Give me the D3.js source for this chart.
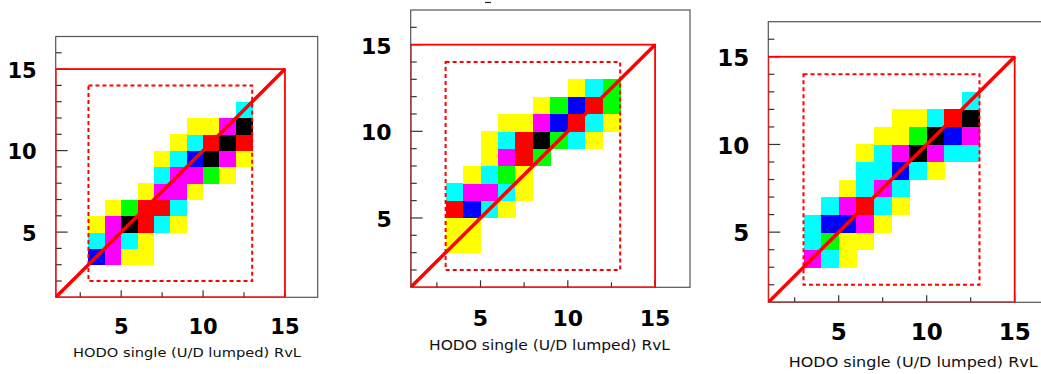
<!DOCTYPE html>
<html>
<head>
<meta charset="utf-8">
<script src="https://cdn.jsdelivr.net/npm/d3@7"></script>
<style>
  html, body { margin: 0; padding: 0; background: #fff; }
  svg { display: block; }
</style>
</head>
<body>
<svg id="chart" width="1041" height="374"></svg>
<script>
// Level codes of the histogram cells (colour index of the old ROOT palette)
const Palette = ["#ffff00", "#00ffff", "#ff00ff", "#0000ff", "#00ff00", "#ff0000", "#000000"];
const Levels = [1, 2, 3, 4, 5, 6, 7];

// Each row: lower bin edge in y, first bin in x, then the levels along x
const Hist1 = [
    { Y: 3, X: 3, Cells: [4, 3, 1, 1] },
    { Y: 4, X: 3, Cells: [2, 3, 2, 1] },
    { Y: 5, X: 3, Cells: [1, 3, 7, 6, 2, 1] },
    { Y: 6, X: 4, Cells: [1, 5, 6, 6, 2] },
    { Y: 7, X: 6, Cells: [1, 3, 3, 1] },
    { Y: 8, X: 7, Cells: [2, 3, 3, 5, 1] },
    { Y: 9, X: 7, Cells: [1, 2, 4, 7, 3, 1] },
    { Y: 10, X: 8, Cells: [1, 2, 6, 7, 6] },
    { Y: 11, X: 9, Cells: [1, 1, 3, 7] },
    { Y: 12, X: 12, Cells: [2] }
];
const Hist2 = [
    { Y: 3, X: 3, Cells: [1, 1] },
    { Y: 4, X: 3, Cells: [1, 1] },
    { Y: 5, X: 3, Cells: [6, 4, 2, 1] },
    { Y: 6, X: 3, Cells: [2, 3, 3, 2, 1] },
    { Y: 7, X: 4, Cells: [1, 2, 5, 1] },
    { Y: 8, X: 5, Cells: [1, 3, 6, 5] },
    { Y: 9, X: 5, Cells: [1, 2, 6, 7, 5, 2, 1] },
    { Y: 10, X: 6, Cells: [1, 1, 3, 4, 6, 2, 1] },
    { Y: 11, X: 8, Cells: [1, 5, 4, 6, 5] },
    { Y: 12, X: 10, Cells: [1, 2, 5] }
];
const Hist3 = [
    { Y: 3, X: 3, Cells: [3, 2, 1] },
    { Y: 4, X: 3, Cells: [2, 5, 1, 1] },
    { Y: 5, X: 3, Cells: [2, 4, 4, 3, 1] },
    { Y: 6, X: 4, Cells: [2, 3, 6, 2, 1] },
    { Y: 7, X: 5, Cells: [1, 2, 3, 2] },
    { Y: 8, X: 6, Cells: [2, 2, 4, 2, 1] },
    { Y: 9, X: 6, Cells: [1, 2, 3, 7, 3, 2, 2] },
    { Y: 10, X: 7, Cells: [1, 1, 5, 7, 4, 3] },
    { Y: 11, X: 8, Cells: [1, 1, 2, 6, 7] },
    { Y: 12, X: 12, Cells: [2] }
];

// Axis settings
const AxisDomain = [1, 17];
const XTicks = [2.5, 5, 7.5, 10, 12.5, 15];
const YTicks = d3.range(2, 17);
const MajorTicks = [5, 10, 15];
const AxisTitle = "HODO single (U/D lumped) RvL";
// Red cut boxes: outer solid box, inner dashed box, diagonal
const OuterBox = [1, 1, 15, 15];
const InnerBox = [3, 2, 13, 14];
const Diagonal = [[1, 1], [15, 15]];

// Pad layout (pixels)
const Pads = [
    { Data: Hist1, Left: 55.7, Right: 317.7, Top: 36.5, Bottom: 297.3, Font: 21, LabelBase: 333.5, TitleRight: 301, TitleBase: 356.5, TitleWidth: 228, TitleFont: 13 },
    { Data: Hist2, Left: 410.7, Right: 690, Top: 10, Bottom: 287.3, Font: 22, LabelBase: 326, TitleRight: 670, TitleBase: 350, TitleWidth: 241, TitleFont: 14 },
    { Data: Hist3, Left: 768.3, Right: 1049.9, Top: 21.7, Bottom: 302.3, Font: 23, LabelBase: 340, TitleRight: 1037.7, TitleBase: 366.5, TitleWidth: 249, TitleFont: 14 }
];

const Svg = d3.select("#chart");
const Color = d3.scaleOrdinal().domain(Levels).range(Palette);

Pads.forEach((Pad, Index) => {
    const X = d3.scaleLinear().domain(AxisDomain).range([Pad.Left, Pad.Right]);
    const Y = d3.scaleLinear().domain(AxisDomain).range([Pad.Bottom, Pad.Top]);
    const G = Svg.append("g");
    const ClipID = "clip" + Index;
    G.append("clipPath").attr("id", ClipID).append("rect")
        .attr("x", Pad.Left).attr("y", Pad.Top)
        .attr("width", Pad.Right - Pad.Left).attr("height", Pad.Bottom - Pad.Top);

    // Flatten the rows into cells
    const Cells = Pad.Data.flatMap((Row) => Row.Cells.map((Level, I) => ({ X: Row.X + I, Y: Row.Y, Level: Level })));
    G.append("g").selectAll("rect").data(Cells).join("rect")
        .attr("x", (D) => X(D.X))
        .attr("y", (D) => Y(D.Y + 1))
        .attr("width", (D) => X(D.X + 1) - X(D.X) + 0.4)
        .attr("height", (D) => Y(D.Y) - Y(D.Y + 1) + 0.4)
        .attr("fill", (D) => Color(D.Level))
        .attr("shape-rendering", "crispEdges");

    // Frame
    G.append("rect")
        .attr("x", Pad.Left).attr("y", Pad.Top)
        .attr("width", Pad.Right - Pad.Left).attr("height", Pad.Bottom - Pad.Top)
        .attr("fill", "none").attr("stroke", "#555").attr("stroke-width", 1.2);

    // Ticks
    G.append("g").selectAll("line").data(YTicks).join("line")
        .attr("x1", Pad.Left).attr("x2", (D) => Pad.Left + (MajorTicks.includes(D) ? 12 : 6))
        .attr("y1", (D) => Y(D)).attr("y2", (D) => Y(D))
        .attr("stroke", "#333").attr("stroke-width", 1.2);
    G.append("g").selectAll("line").data(XTicks).join("line")
        .attr("x1", (D) => X(D)).attr("x2", (D) => X(D))
        .attr("y1", Pad.Bottom).attr("y2", (D) => Pad.Bottom - (MajorTicks.includes(D) ? 7 : 5))
        .attr("stroke", "#333").attr("stroke-width", 1.2);

    // Tick labels
    G.append("g").selectAll("text").data(MajorTicks).join("text")
        .attr("x", Pad.Left - 19).attr("y", (D) => Y(D) + Pad.Font * 0.36 + 1)
        .attr("text-anchor", "end")
        .attr("font-family", "DejaVu Sans").attr("font-weight", "bold").attr("font-size", Pad.Font)
        .text((D) => D);
    G.append("g").selectAll("text").data(MajorTicks).join("text")
        .attr("x", (D) => X(D)).attr("y", Pad.LabelBase)
        .attr("text-anchor", "middle")
        .attr("font-family", "DejaVu Sans").attr("font-weight", "bold").attr("font-size", Pad.Font)
        .text((D) => D);

    // Axis title, right aligned like ROOT
    G.append("text")
        .attr("x", Pad.TitleRight - Pad.TitleWidth).attr("y", Pad.TitleBase)
        .attr("textLength", Pad.TitleWidth).attr("lengthAdjust", "spacingAndGlyphs")
        .attr("font-family", "DejaVu Sans").attr("font-size", Pad.TitleFont)
        .attr("fill", "#111")
        .text(AxisTitle);

    // Red cut lines
    const Cuts = G.append("g").attr("clip-path", `url(#${ClipID})`);
    Cuts.append("rect")
        .attr("x", X(OuterBox[0])).attr("y", Y(OuterBox[3]))
        .attr("width", X(OuterBox[2]) - X(OuterBox[0])).attr("height", Y(OuterBox[1]) - Y(OuterBox[3]))
        .attr("fill", "none").attr("stroke", "#ff0000").attr("stroke-width", 1.8);
    Cuts.append("rect")
        .attr("x", X(InnerBox[0])).attr("y", Y(InnerBox[3]))
        .attr("width", X(InnerBox[2]) - X(InnerBox[0])).attr("height", Y(InnerBox[1]) - Y(InnerBox[3]))
        .attr("fill", "none").attr("stroke", "#ff0000").attr("stroke-width", 2)
        .attr("stroke-dasharray", "4,3");
    Cuts.append("path")
        .attr("d", d3.line().x((D) => X(D[0])).y((D) => Y(D[1]))(Diagonal))
        .attr("fill", "none").attr("stroke", "#ff0000").attr("stroke-width", 3.5);
});

// Remnant of a clipped title above the middle pad
Svg.append("line").attr("x1", 485).attr("x2", 491).attr("y1", 2.5).attr("y2", 2.5)
    .attr("stroke", "#222").attr("stroke-width", 1.2);
</script>
</body>
</html>
